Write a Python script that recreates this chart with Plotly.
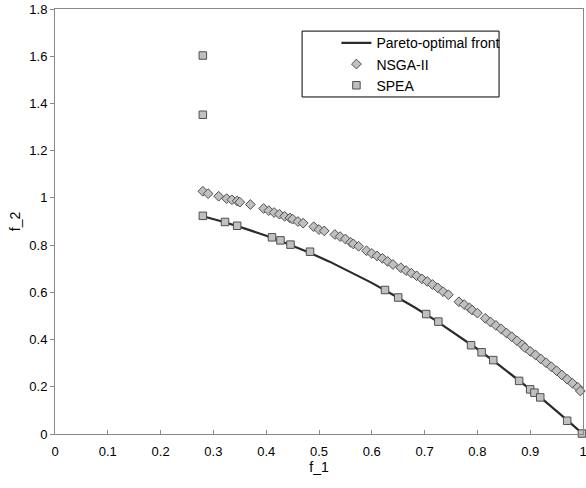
import plotly.graph_objects as go

# Pareto-optimal front
front_f1 = [0.28, 0.32, 0.36, 0.40, 0.44, 0.48, 0.52, 0.56, 0.60, 0.64,
            0.68, 0.72, 0.76, 0.80, 0.84, 0.88, 0.92, 0.96, 1.0]
front_f2 = [0.922, 0.898, 0.870, 0.840, 0.806, 0.770, 0.730, 0.686, 0.640, 0.590,
            0.538, 0.482, 0.422, 0.360, 0.294, 0.226, 0.154, 0.078, 0.0]

# NSGA-II solutions
nsga_f1 = [0.28, 0.29, 0.31, 0.325, 0.335, 0.345, 0.35, 0.37, 0.395, 0.405,
           0.415, 0.425, 0.435, 0.445, 0.45, 0.46, 0.47, 0.49, 0.5, 0.51,
           0.53, 0.54, 0.55, 0.56, 0.565, 0.575, 0.59, 0.6, 0.61, 0.62,
           0.63, 0.64, 0.655, 0.665, 0.675, 0.685, 0.695, 0.705, 0.715, 0.725,
           0.735, 0.745, 0.765, 0.775, 0.785, 0.79, 0.80, 0.815, 0.825, 0.835,
           0.845, 0.855, 0.865, 0.875, 0.885, 0.89, 0.9, 0.91, 0.92, 0.93,
           0.94, 0.95, 0.96, 0.97, 0.98, 0.99, 0.995]
nsga_f2 = [1.028, 1.018, 1.007, 0.997, 0.992, 0.987, 0.982, 0.972, 0.955, 0.946,
           0.938, 0.931, 0.922, 0.915, 0.91, 0.9, 0.893, 0.878, 0.866, 0.86,
           0.845, 0.836, 0.826, 0.812, 0.805, 0.795, 0.776, 0.765, 0.754, 0.744,
           0.731, 0.718, 0.704, 0.692, 0.681, 0.67, 0.657, 0.646, 0.633, 0.619,
           0.603, 0.59, 0.56, 0.548, 0.534, 0.525, 0.512, 0.49, 0.474, 0.46,
           0.445, 0.428, 0.412, 0.395, 0.378, 0.366, 0.35, 0.335, 0.318, 0.302,
           0.285, 0.268, 0.25, 0.232, 0.215, 0.198, 0.182]

# SPEA solutions
spea_f1 = [0.28, 0.28, 0.28, 0.322, 0.345, 0.411, 0.427, 0.446, 0.483, 0.625,
           0.65, 0.703, 0.726, 0.788, 0.808, 0.83, 0.879, 0.90, 0.908, 0.919,
           0.97, 0.998]
spea_f2 = [1.603, 1.352, 0.924, 0.898, 0.882, 0.833, 0.82, 0.802, 0.772, 0.61,
           0.578, 0.508, 0.476, 0.376, 0.346, 0.313, 0.225, 0.189, 0.175, 0.155,
           0.056, 0.002]

fig = go.Figure()
fig.add_trace(go.Scatter(
    x=front_f1, y=front_f2, mode="lines", name="Pareto-optimal front",
    line=dict(color="#2b2b2b", width=2.2)))
fig.add_trace(go.Scatter(
    x=nsga_f1, y=nsga_f2, mode="markers", name="NSGA-II",
    marker=dict(symbol="diamond", size=7.5, color="#c0c0c0",
                line=dict(color="#4f4f4f", width=1)),
    cliponaxis=False))
fig.add_trace(go.Scatter(
    x=spea_f1, y=spea_f2, mode="markers", name="SPEA",
    marker=dict(symbol="square", size=7.5, color="#c0c0c0",
                line=dict(color="#4f4f4f", width=1)),
    cliponaxis=False))

axis_col = "#888888"
fig.update_layout(
    width=586, height=488,
    margin=dict(l=55, r=3, t=9, b=54, autoexpand=False),
    paper_bgcolor="white", plot_bgcolor="white",
    font=dict(family="Liberation Sans, Arial, sans-serif", size=13, color="black"),
    showlegend=True,
    legend=dict(x=0.533, y=0.957, xanchor="left", yanchor="top",
                borderwidth=0, bgcolor="rgba(0,0,0,0)",
                font=dict(size=14), tracegroupgap=0, itemwidth=30),
    shapes=[dict(type="rect", xref="paper", yref="paper",
                 x0=0.468, x1=0.841, y0=0.793, y1=0.948,
                 line=dict(color="black", width=1), fillcolor="white",
                 layer="below")],
    xaxis=dict(range=[0, 1], dtick=0.1, tick0=0, showgrid=False, zeroline=False,
               showline=True, linecolor=axis_col, linewidth=1, mirror=True,
               ticks="inside", ticklen=4, tickcolor=axis_col,
               ticklabelstandoff=5, ticklabeloverflow="allow", automargin=False,
               title=dict(text="f_1", font=dict(size=14), standoff=3)),
    yaxis=dict(range=[0, 1.8], dtick=0.2, tick0=0, showgrid=False, zeroline=False,
               showline=True, linecolor=axis_col, linewidth=1, mirror=True,
               ticks="outside", ticklen=4, tickcolor=axis_col, automargin=False,
               title=dict(text="f_2", font=dict(size=14), standoff=5)),
)

fig.write_html("out.html")
